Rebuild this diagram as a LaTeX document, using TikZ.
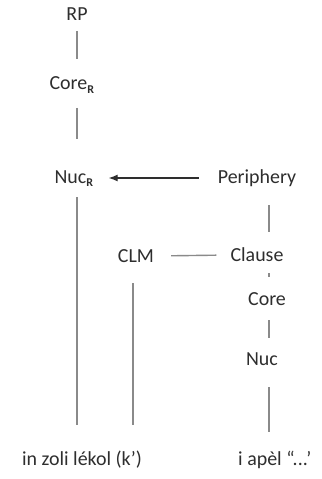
\documentclass[tikz,border=0pt]{standalone}
\usepackage{fontspec}
\setmainfont{Carlito}
\usetikzlibrary{arrows.meta}
\definecolor{txt}{HTML}{2E2E2E}
\definecolor{ln}{HTML}{8A8A8A}
\begin{document}
\begin{tikzpicture}[x=1bp,y=-1bp,
  lab/.style={inner sep=0pt,text=txt,font=\fontsize{20}{22}\selectfont},
  conn/.style={draw=ln,line width=1.4bp}]
\useasboundingbox[fill=white] (0,0) rectangle (321,479);
\newcommand{\subR}{\textsubscript{\fontsize{12}{13}\selectfont\bfseries R}}
\node[lab] (RP) at (77,14) {RP};
\node[lab] (CoreR) at (72,85) {Core\subR};
\node[lab] (NucR) at (74,179) {Nuc\subR};
\node[lab] (Per) at (257,178) {Periphery};
\node[lab] (CLM) at (136,256) {CLM};
\node[lab] (Clause) at (257,255) {Clause};
\node[lab] (Core) at (267,299) {Core};
\node[lab] (Nuc) at (262,359) {Nuc};
\node[lab] (S1) at (82,460) {in zoli lékol (k’)};
\node[lab,anchor=west] (S2) at (238,460) {i apèl “...’};
\coordinate (x1) at (77,0);
\coordinate (x2) at (133,0);
\coordinate (x3) at (269,0);
% left column
\draw[conn,shorten <=17bp,shorten >=26bp] (x1 |- RP) -- (x1 |- CoreR);
\draw[conn,shorten <=23bp,shorten >=40bp] (x1 |- CoreR) -- (x1 |- NucR);
\draw[conn,shorten <=18bp,shorten >=35bp] (x1 |- NucR) -- (x1 |- S1);
% CLM column
\draw[conn,shorten <=27bp,shorten >=35bp] (x2 |- CLM) -- (x2 |- S1);
\draw[conn,shorten <=17bp,shorten >=14bp] (CLM.east) -- (Clause.west);
% right column
\draw[draw=txt,line width=1.2bp,-{Latex[length=9bp,width=7bp]},shorten <=19bp,shorten >=15bp] (Per.west) -- (Per.west -| NucR.east);
\draw[conn,shorten <=27bp,shorten >=23bp] (x3 |- Per) -- (x3 |- Clause);
\draw[conn,shorten <=18bp,shorten >=22bp] (x3 |- Clause) -- (x3 |- Core);
\draw[conn,shorten <=21bp,shorten >=21bp] (x3 |- Core) -- (x3 |- Nuc);
\draw[conn,shorten <=28bp,shorten >=28bp] (x3 |- Nuc) -- (x3 |- S2);
\end{tikzpicture}
\end{document}
